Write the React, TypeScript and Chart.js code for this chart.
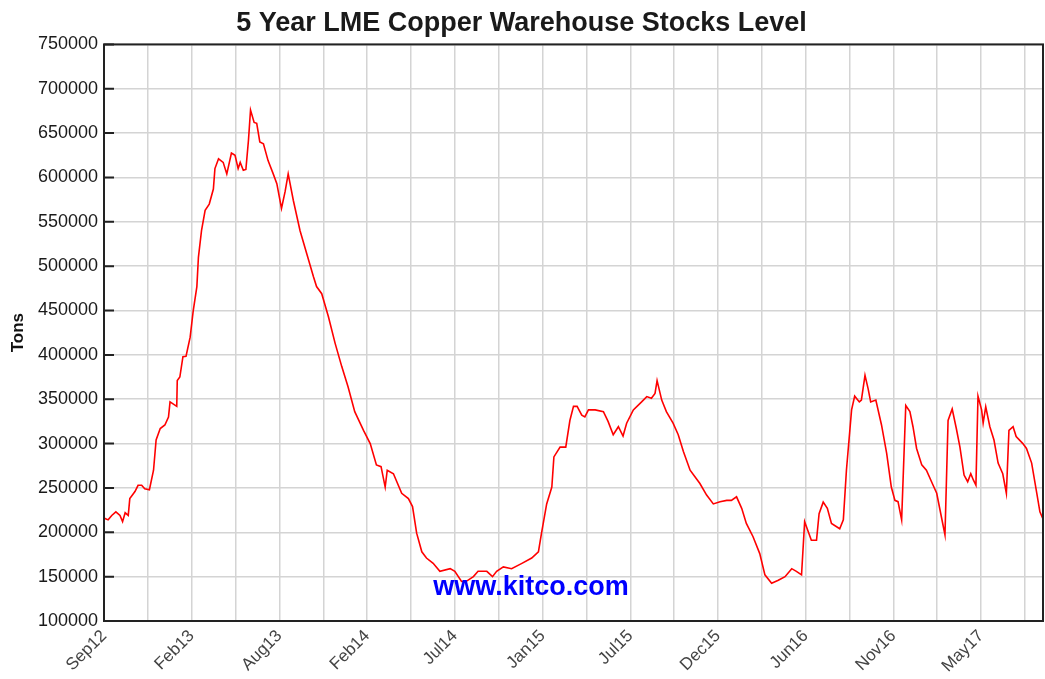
import React, { useEffect, useRef } from "react";
import { Chart, registerables } from "chart.js";

Chart.register(...registerables);

// Days since the first observation (Sep 2012)
const dayOffsets = [
  0, 8, 15, 23, 31, 36, 41, 47, 50, 60, 66, 73, 79, 88, 96, 101, 109, 118, 125, 128,
  141, 142, 147, 153, 159, 167, 173, 180, 183, 189, 196, 204, 212, 215, 222, 231, 238, 247, 254, 260,
  264, 270, 275, 280, 284, 291, 296, 302, 309, 318, 328, 335, 344, 351, 357, 367, 380, 393, 406, 412,
  422, 435, 448, 461, 473, 486, 503, 516, 528, 537, 545, 549, 561, 577, 590, 598, 606, 616, 625, 638,
  651, 671, 680, 693, 703, 716, 725, 742, 753, 761, 774, 790, 810, 829, 842, 848, 858, 868, 872, 884,
  895, 903, 910, 917, 926, 932, 939, 952, 968, 977, 987, 997, 1006, 1013, 1026, 1042, 1052, 1061, 1068, 1072,
  1081, 1090, 1103, 1113, 1123, 1136, 1145, 1155, 1168, 1181, 1194, 1207, 1216, 1226, 1236, 1245, 1258, 1271, 1281, 1294,
  1307, 1320, 1333, 1342, 1352, 1358, 1371, 1381, 1386, 1394, 1402, 1410, 1426, 1433, 1439, 1449, 1455, 1464, 1468, 1475,
  1481, 1486, 1496, 1507, 1517, 1526, 1533, 1539, 1546, 1554, 1562, 1568, 1575, 1585, 1594, 1607, 1614, 1623, 1630, 1636,
  1644, 1652, 1659, 1667, 1674, 1680, 1685, 1690, 1694, 1701, 1704, 1709, 1717, 1725, 1733, 1742, 1749, 1754, 1762, 1768,
  1781, 1788, 1798, 1808, 1814, 1820,
];

// LME copper warehouse stocks, tons
const stockTons = [
  216000, 214000, 219000, 223000, 219000, 212000, 222000, 219000, 238000, 246000, 253000, 253000, 249000, 248000, 270000, 304000, 317000, 321000, 330000, 347000,
  342000, 371000, 375000, 398000, 398500, 420000, 450000, 477000, 510000, 540000, 563000, 570000, 587000, 610000, 621000, 617000, 604000, 627500, 625000, 610000,
  617000, 608000, 609000, 642000, 676000, 662000, 661000, 640000, 638000, 619000, 604000, 593000, 565000, 584000, 604000, 574000, 540000, 514000, 488000, 477000,
  469000, 443000, 413000, 386500, 364000, 336000, 315000, 300000, 276000, 274000, 251000, 270000, 266000, 244000, 238000, 229000, 199000, 178000, 171000, 165000,
  156000, 159000, 156000, 144500, 145000, 150000, 156000, 156000, 150000, 156000, 161000, 159000, 165000, 171000, 178000, 199000, 232000, 251000, 285000, 296000,
  296000, 326000, 342000, 342000, 332000, 330000, 338000, 338000, 336000, 325000, 310000, 319000, 308500, 323000, 338000, 347000, 353000, 351000, 356500, 371000,
  349000, 336000, 323000, 310000, 291000, 270000, 263000, 255000, 242000, 232000, 234500, 236000, 236000, 240000, 227000, 210000, 195000, 176000, 152000, 142500,
  146000, 150000, 159000, 156000, 152000, 212000, 191000, 191000, 221000, 234000, 227000, 210000, 204000, 214000, 270000, 338000, 353500, 347000, 349000, 377000,
  362000, 347000, 349000, 321000, 289000, 251000, 236000, 234500, 214000, 343000, 336000, 319000, 294500, 276000, 270000, 253000, 244000, 217500, 197000, 326000,
  339000, 317000, 296000, 264500, 257000, 266000, 259000, 253000, 353500, 338000, 323000, 341500, 319000, 304000, 278000, 266000, 244000, 315000, 319000, 308000,
  300000, 294500, 278000, 244000, 223000, 215000,
];

// Labels on every other vertical grid line
const xTickLabels = ["Sep12", "Feb13", "Aug13", "Feb14", "Jul14", "Jan15", "Jul15", "Dec15", "Jun16", "Nov16", "May17"];
const gridStepDays = 85;
const axisEndDay = 1820;

const yMin = 100000;
const yMax = 750000;
const yStep = 50000;

const FONT = "'Liberation Sans', Arial, Helvetica, sans-serif";

const framePlugin = {
  id: "frame",
  afterDraw(chart: any) {
    const { ctx, chartArea, scales } = chart;
    const yScale = scales.y;
    ctx.save();
    // watermark
    ctx.font = `bold 27px ${FONT}`;
    ctx.fillStyle = "#0000ff";
    ctx.textAlign = "center";
    ctx.textBaseline = "middle";
    ctx.fillText("www.kitco.com", chartArea.left + 427, chartArea.bottom - 33);
    // inward ticks
    ctx.strokeStyle = "#222";
    ctx.lineWidth = 2;
    ctx.beginPath();
    yScale.ticks.forEach((t: any) => {
      const py = yScale.getPixelForValue(t.value);
      ctx.moveTo(chartArea.left, py);
      ctx.lineTo(chartArea.left + 10, py);
    });
    ctx.stroke();
    // box
    ctx.strokeRect(chartArea.left, chartArea.top, chartArea.right - chartArea.left, chartArea.bottom - chartArea.top);
    ctx.restore();
  },
};

export default function App() {
  const canvasRef = useRef<HTMLCanvasElement | null>(null);

  useEffect(() => {
    if (!canvasRef.current) return;
    const points = dayOffsets.map((d, i) => ({ x: d, y: stockTons[i] }));
    const chart = new Chart(canvasRef.current, {
      type: "line",
      data: {
        datasets: [
          {
            label: "Tons",
            data: points,
            borderColor: "#ff0000",
            borderWidth: 1.6,
            pointRadius: 0,
            tension: 0,
            fill: false,
          },
        ],
      },
      options: {
        animation: false,
        responsive: true,
        maintainAspectRatio: false,
        layout: { padding: { left: 0, right: 2, top: 0, bottom: 0 } },
        plugins: {
          legend: { display: false },
          tooltip: { enabled: false },
          title: {
            display: true,
            text: "5 Year LME Copper Warehouse Stocks Level",
            color: "#1a1a1a",
            font: { family: FONT, size: 27, weight: "bold" },
            padding: { top: 7, bottom: 5 },
          },
        },
        scales: {
          x: {
            type: "linear",
            min: 0,
            max: axisEndDay,
            afterFit(scale: any) {
              scale.height = 58;
            },
            border: { display: false },
            grid: { color: "#d4d4d4", lineWidth: 1.5, drawTicks: false },
            ticks: {
              stepSize: gridStepDays,
              includeBounds: false,
              autoSkip: false,
              maxRotation: 45,
              minRotation: 45,
              padding: 5,
              color: "#444",
              font: { family: FONT, size: 17 },
              callback: (value: any) => {
                const idx = Math.round(Number(value) / gridStepDays);
                if (idx % 2 !== 0) return "";
                return xTickLabels[idx / 2] ?? "";
              },
            },
          },
          y: {
            min: yMin,
            max: yMax,
            afterFit(scale: any) {
              scale.width = 104;
            },
            border: { display: false },
            grid: { color: "#d4d4d4", lineWidth: 1.5, drawTicks: false },
            title: {
              display: true,
              text: "Tons",
              color: "#111",
              font: { family: FONT, size: 17, weight: "bold" },
              padding: { top: 8, bottom: 0 },
            },
            ticks: {
              stepSize: yStep,
              padding: 6,
              color: "#1a1a1a",
              font: { family: FONT, size: 18 },
              callback: (value: any) => String(value),
            },
          },
        },
      },
      plugins: [framePlugin],
    });
    return () => chart.destroy();
  }, []);

  return (
    <div style={{ position: "absolute", left: 0, top: 0, width: 1045, height: 679, background: "#fff" }}>
      <canvas ref={canvasRef} />
    </div>
  );
}
